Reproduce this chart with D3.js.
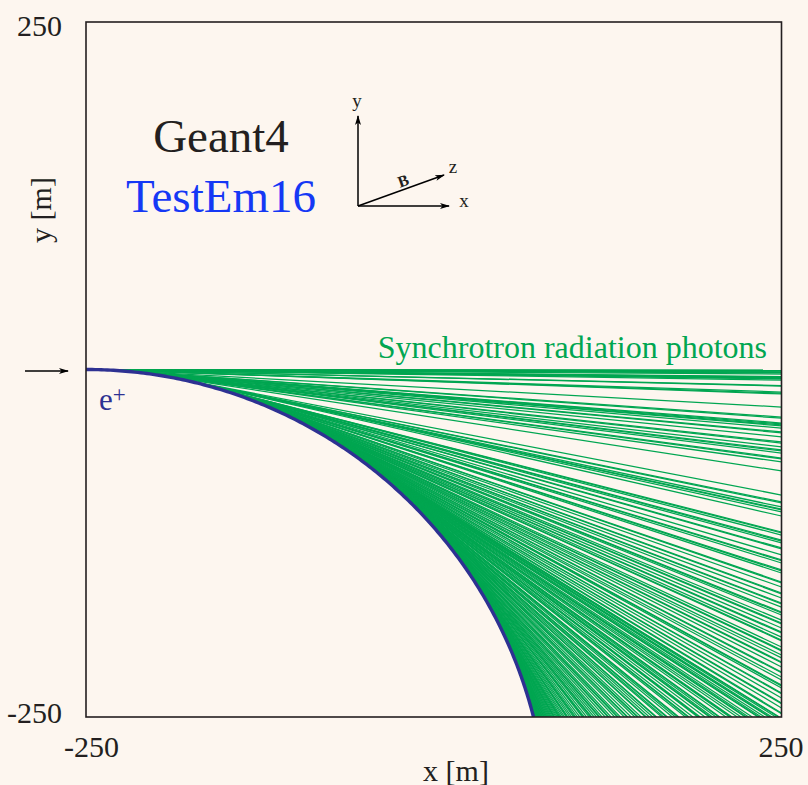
<!DOCTYPE html>
<html>
<head>
<meta charset="utf-8">
<script src="https://cdn.jsdelivr.net/npm/d3@7"></script>
<style>
  html, body { margin: 0; padding: 0; background: #fdf6ef; }
  svg { display: block; }
  text { font-family: "Liberation Serif", "DejaVu Serif", serif; }
</style>
</head>
<body>
<svg id="chart" width="808" height="785"></svg>
<script>
// ---------------- data ----------------
const xDomain = [-250, 250];            // x [m]
const yDomain = [-250, 250];            // y [m]
const xTicks = [-250, 250];
const yTicks = [-250, 250];
const trackRadius = 332;                // positron bending radius [m]
const trackStart = [-250, 0];           // entry point of the e+ [m]

// where each synchrotron photon leaves the frame
// photons leaving through the right edge (x = 250): exit y [m]
const exitRight = [
  -0.4, -0.6, -1.0, -1.2, -1.8, -2.2, -2.5, -3.3, -5.1, -5.4, -5.8, -6.1, -6.5,
  -6.8, -7.6, -11.6, -11.9, -16.2, -17.0, -17.6, -27.0, -34.2, -35.0, -38.5,
  -39.2, -39.9, -40.6, -42.1, -44.9, -45.6, -48.5, -52.1, -52.9, -55.7, -57.9,
  -58.6, -60.1, -63.7, -64.3, -66.5, -73.0, -90.3, -95.3, -96.0, -98.9, -100.4,
  -101.0, -102.5, -105.4, -116.9, -117.6, -119.1, -122.7, -123.4, -124.8,
  -128.4, -129.0, -133.4, -137.0, -137.6, -139.2, -144.2, -144.9, -146.4,
  -152.9, -153.5, -156.5, -160.8, -161.4, -164.4, -168.0, -168.6, -171.0,
  -174.5, -175.2, -176.6, -180.3, -182.4, -183.0, -186.0, -188.9, -189.5,
  -192.5, -194.6, -195.2, -199.6, -201.8, -202.4, -205.4, -207.5, -210.4,
  -211.0, -214.0, -217.6, -218.2, -221.2, -223.4, -227.0, -227.6, -229.1,
  -232.7, -233.3, -236.3, -239.9, -240.5, -243.5, -247.1, -247.7
];
// photons leaving through the bottom edge (y = -250): exit x [m]
const exitBottom = [
  248.5, 247.8, 246.0, 243.2, 241.8, 241.1, 238.0, 235.5, 233.9, 233.2, 229.0,
  226.4, 224.7, 224.0, 221.0, 218.2, 214.5, 213.7, 212.8, 210.1, 205.7, 205.0,
  203.0, 200.4, 198.9, 198.2, 195.0, 191.6, 190.7, 189.8, 186.3, 183.5, 182.8,
  181.0, 176.2, 175.5, 173.8, 171.5, 168.0, 167.3, 165.3, 163.9, 160.2, 159.6,
  157.4, 155.0, 152.8, 152.2, 149.1, 147.0, 146.4, 144.6, 141.9, 139.5, 138.9,
  137.0, 134.2, 132.6, 132.0, 130.1, 127.5, 125.8, 125.2, 123.2, 121.0, 119.4,
  118.8, 117.1, 115.3, 113.6, 113.0, 111.8, 109.9, 108.2, 107.5, 106.8, 105.0,
  103.4, 102.1, 101.4, 100.6, 99.2, 97.9, 96.5, 95.9, 95.4, 94.1, 93.0, 91.8,
  90.9, 90.3, 89.7, 88.8, 87.9, 87.0, 86.6, 86.2, 85.4, 84.6, 83.9, 83.2, 82.5,
  81.8, 81.2, 80.6, 80.0, 79.4, 78.9, 78.3, 77.8, 77.3, 76.8, 76.4, 75.9, 75.5,
  75.1, 74.7, 74.3, 74.0, 73.6, 73.3, 73.0, 72.7, 72.5, 72.3, 72.1
];

// ---------------- layout ----------------
const svg = d3.select("#chart");
const W = 808, H = 785;
const plot = { left: 86, right: 781.5, top: 22, bottom: 717 };
const x = d3.scaleLinear().domain(xDomain).range([plot.left, plot.right]);
const y = d3.scaleLinear().domain(yDomain).range([plot.bottom, plot.top]);

const BG = "#fdf6ef", INK = "#231f20", GREEN = "#00a651", TRACK = "#2e3192";

svg.append("rect").attr("width", W).attr("height", H).attr("fill", BG);

const defs = svg.append("defs");
defs.append("clipPath").attr("id", "clip").append("rect")
  .attr("x", plot.left).attr("y", plot.top)
  .attr("width", plot.right - plot.left).attr("height", plot.bottom - plot.top);
defs.append("marker").attr("id", "arrow")
  .attr("viewBox", "0 0 10 6").attr("refX", 9).attr("refY", 3)
  .attr("markerWidth", 10).attr("markerHeight", 6)
  .attr("markerUnits", "userSpaceOnUse").attr("orient", "auto")
  .append("path").attr("d", "M0,0 L10,3 L0,6 L2.5,3 Z").attr("fill", "#000");

// ---------------- geometry of the track ----------------
const [x0, y0] = trackStart;
const phiMax = Math.acos((trackRadius - (y0 - yDomain[0])) / trackRadius);
function emitPoint(phi) {
  return [x0 + trackRadius * Math.sin(phi), y0 - trackRadius * (1 - Math.cos(phi))];
}
// monotone exit parameter of the tangent photon emitted at angle phi
function exitParam(phi) {
  const [px, py] = emitPoint(phi);
  const c = Math.cos(phi), s = Math.sin(phi);
  const yr = py - s * (xDomain[1] - px) / c;
  if (yr >= yDomain[0]) return y0 - yr;
  const xb = px + c * (py - yDomain[0]) / s;
  return (y0 - yDomain[0]) + (xDomain[1] - xb);
}
function solvePhi(target) {
  let lo = 0, hi = phiMax;
  for (let i = 0; i < 60; i++) {
    const mid = (lo + hi) / 2;
    if (exitParam(mid) < target) lo = mid; else hi = mid;
  }
  return (lo + hi) / 2;
}
const photons = [
  ...exitRight.map(v => ({ end: [xDomain[1], v], target: y0 - v })),
  ...exitBottom.map(v => ({ end: [v, yDomain[0]], target: (y0 - yDomain[0]) + (xDomain[1] - v) }))
].map(p => ({ start: emitPoint(solvePhi(p.target)), end: p.end }));

// ---------------- photons ----------------
const gPlot = svg.append("g").attr("clip-path", "url(#clip)");
gPlot.selectAll("line.photon").data(photons).join("line")
  .attr("class", "photon")
  .attr("x1", d => x(d.start[0])).attr("y1", d => y(d.start[1]))
  .attr("x2", d => x(d.end[0])).attr("y2", d => y(d.end[1]))
  .attr("stroke", GREEN).attr("stroke-width", 1.25);

// ---------------- positron track ----------------
const trackPts = d3.range(0, 201).map(i => emitPoint(phiMax * i / 200));
gPlot.append("path")
  .attr("d", d3.line().x(d => x(d[0])).y(d => y(d[1]))(trackPts))
  .attr("fill", "none").attr("stroke", TRACK).attr("stroke-width", 3.4);

// ---------------- frame ----------------
svg.append("rect")
  .attr("x", plot.left).attr("y", plot.top)
  .attr("width", plot.right - plot.left).attr("height", plot.bottom - plot.top)
  .attr("fill", "none").attr("stroke", INK).attr("stroke-width", 1.6);

// ---------------- axes (labels only) ----------------
const fmt = d => String(d);
const gx = svg.append("g").attr("transform", `translate(0,${plot.bottom})`)
  .call(d3.axisBottom(x).tickValues(xTicks).tickSize(0).tickPadding(19).tickFormat(fmt));
gx.select(".domain").remove();
gx.selectAll("text").attr("font-size", 30).attr("fill", INK)
  .attr("font-family", '"Liberation Serif", serif')
  .attr("dx", d => d < 0 ? 5 : -1);

const gy = svg.append("g").attr("transform", `translate(${plot.left},0)`)
  .call(d3.axisLeft(y).tickValues(yTicks).tickSize(0).tickPadding(24).tickFormat(fmt));
gy.select(".domain").remove();
gy.selectAll("text").attr("font-size", 30).attr("fill", INK)
  .attr("font-family", '"Liberation Serif", serif')
  .attr("dy", d => d > 0 ? "0.45em" : "0.18em");

svg.append("text").attr("x", 456).attr("y", 781).attr("text-anchor", "middle")
  .attr("font-size", 30).attr("fill", INK).text("x [m]");
svg.append("text").attr("transform", "translate(51,210) rotate(-90)")
  .attr("text-anchor", "middle").attr("font-size", 30).attr("fill", INK).text("y [m]");

// ---------------- annotations ----------------
svg.append("text").attr("x", 221).attr("y", 152).attr("text-anchor", "middle")
  .attr("font-size", 47).attr("fill", INK).text("Geant4");
svg.append("text").attr("x", 221).attr("y", 212).attr("text-anchor", "middle")
  .attr("font-size", 47).attr("fill", "#1538f5").text("TestEm16");

svg.append("text").attr("x", 767).attr("y", 358).attr("text-anchor", "end")
  .attr("font-size", 32).attr("fill", GREEN).text("Synchrotron radiation photons");

const ep = svg.append("text").attr("x", 99).attr("y", 410)
  .attr("font-size", 31).attr("fill", TRACK);
ep.append("tspan").text("e");
ep.append("tspan").attr("dy", -8).attr("font-size", 23).text("+");

// incoming arrow
svg.append("line")
  .attr("x1", 25).attr("y1", y(0) + 1.5).attr("x2", 68).attr("y2", y(0) + 1.5)
  .attr("stroke", "#000").attr("stroke-width", 1.5).attr("marker-end", "url(#arrow)");

// coordinate system sketch
const origin = [358, 206];
const axesSketch = [
  { to: [358, 116], label: "y", lp: [357, 107] },
  { to: [449, 206], label: "x", lp: [464, 207] },
  { to: [444, 175], label: "z", lp: [453, 173] }
];
axesSketch.forEach(a => {
  svg.append("line")
    .attr("x1", origin[0]).attr("y1", origin[1]).attr("x2", a.to[0]).attr("y2", a.to[1])
    .attr("stroke", "#000").attr("stroke-width", 1.5).attr("marker-end", "url(#arrow)");
  svg.append("text").attr("x", a.lp[0]).attr("y", a.lp[1]).attr("text-anchor", "middle")
    .attr("font-size", 19).attr("fill", INK).text(a.label);
});
svg.append("text").attr("transform", "translate(405,186) rotate(-19.5)")
  .attr("text-anchor", "middle").attr("font-size", 16).attr("font-weight", "bold")
  .attr("fill", INK).text("B");
</script>
</body>
</html>
